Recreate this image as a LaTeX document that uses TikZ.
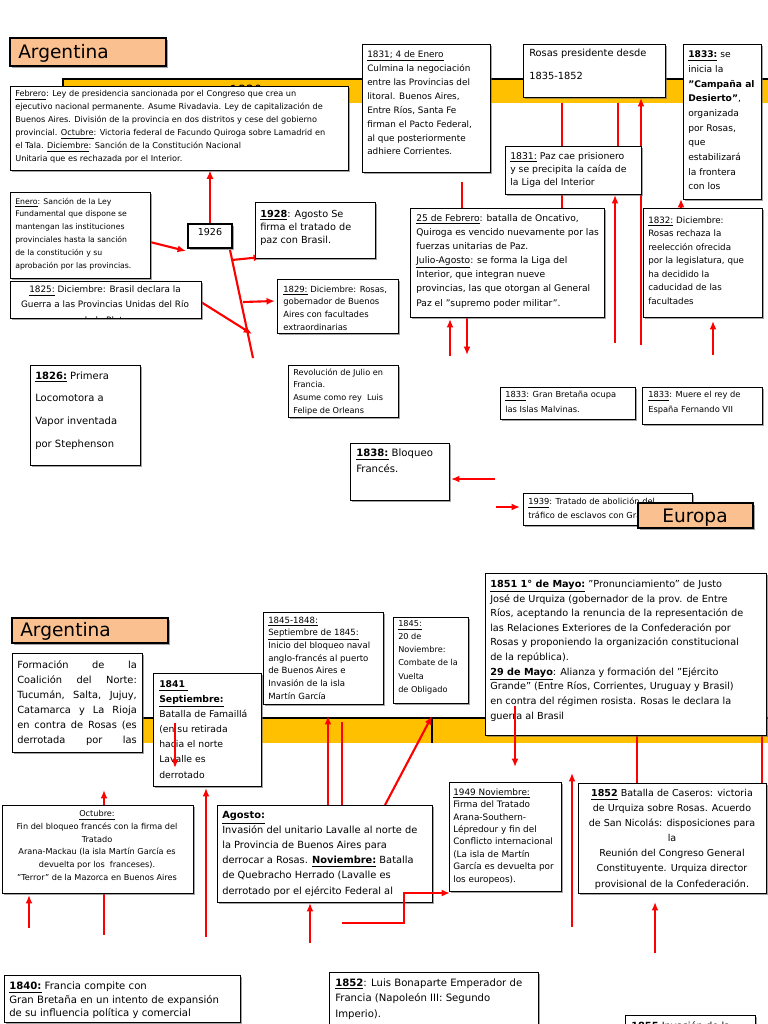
\documentclass[tikz,border=0pt]{standalone}
\usepackage{fontspec}
\setmainfont{DejaVu Sans}
\usepackage{xcolor}
\usetikzlibrary{shadows, fit, arrows.meta}

\definecolor{naranja}{RGB}{250,192,143}
\definecolor{barra}{RGB}{255,192,0}

\begin{document}
\begin{tikzpicture}[x=0.025cm, y=-0.025cm, >={Latex[length=6pt,width=5pt]},
    caja/.style={draw, fill=white, line width=0.6pt, inner sep=0pt,
      drop shadow={shadow xshift=1.5pt, shadow yshift=-1.5pt, fill=black!60, opacity=.6}},
    titulo/.style={caja, fill=naranja, line width=1.5pt},
    cabecera/.style={font=\fontsize{13.2}{15}\selectfont, inner sep=0pt, anchor=base west},
    texto/.style 2 args={font=\fontsize{#1}{#2}\selectfont, inner sep=0pt, anchor=base west, align=left},
    centro/.style 2 args={font=\fontsize{#1}{#2}\selectfont, inner sep=0pt, anchor=base, align=center},
    flecha/.style={->, red, line width=1.5pt},
    linea/.style={red, line width=1.5pt}]
    \useasboundingbox (0,0) rectangle (768,1024);
    \clip (0,0) rectangle (768,1024);

    % 1. Barras de tiempo amarillas
    \fill[barra] (63,79) rectangle (770,103);
    \draw[line width=1.5pt] (63,103) -- (63,79) -- (770,79);
    \node[font=\fontsize{9}{10}\selectfont, anchor=base, inner sep=0pt] (anio) at (246,95) {1830};
    \fill[barra] (100,718) rectangle (770,743);
    \draw[line width=1.5pt] (100,718) -- (770,718);
    \draw[line width=1.2pt] (432,718) -- (432,743);

    % 2. Puntos libres de las flechas rojas
    \coordinate (eneroS) at (150,242);  \coordinate (c1926O) at (186,251);
    \coordinate (rama0) at (230,250);   \coordinate (rama1) at (253,358);
    \coordinate (r28a) at (232,260);    \coordinate (r28b) at (262,257);
    \coordinate (r29a) at (243,302);    \coordinate (r29b) at (275,301);
    \coordinate (r25a) at (201,302);    \coordinate (r25b) at (252,334);
    \coordinate (p462a) at (462,182);   \coordinate (p462b) at (462,208);
    \coordinate (p562a) at (562,103);   \coordinate (p562b) at (562,208);
    \coordinate (p618a) at (618,103);   \coordinate (p618b) at (618,146);
    \coordinate (p641a) at (641,345);   \coordinate (p641b) at (641,98);
    \coordinate (p615a) at (615,343);   \coordinate (p615b) at (615,195);
    \coordinate (p681a) at (681,208);   \coordinate (p681b) at (681,199);
    \coordinate (p713a) at (713,355);   \coordinate (p713b) at (713,321);
    \coordinate (p450a) at (450,356);   \coordinate (p450b) at (450,319);
    \coordinate (p467a) at (467,318);   \coordinate (p467b) at (467,355);
    \coordinate (p1838a) at (495,479);  \coordinate (p1838b) at (451,479);
    \coordinate (p1939a) at (496,507);  \coordinate (p1939b) at (520,507);
    % mitad inferior
    \coordinate (p175a) at (175,723);   \coordinate (p175b) at (175,768);
    \coordinate (p104a) at (104,935);   \coordinate (p104b) at (104,790);
    \coordinate (p29a) at (29,928);     \coordinate (p29b) at (29,895);
    \coordinate (p206a) at (206,937);   \coordinate (p206b) at (206,788);
    \coordinate (p310a) at (310,943);   \coordinate (p310b) at (310,903);
    \coordinate (q1) at (342,923); \coordinate (q2) at (404,923);
    \coordinate (q3) at (404,893); \coordinate (q4) at (450,893);
    \coordinate (p328a) at (328,805);   \coordinate (p328b) at (328,716);
    \coordinate (p342a) at (342,805);   \coordinate (p342b) at (342,722);
    \coordinate (p385a) at (385,805);   \coordinate (p385b) at (432,716);
    \coordinate (p515a) at (515,706);   \coordinate (p515b) at (515,767);
    \coordinate (p637a) at (637,735);   \coordinate (p637b) at (637,783);
    \coordinate (p762a) at (762,735);   \coordinate (p762b) at (762,783);
    \coordinate (p572a) at (572,927);   \coordinate (p572b) at (572,773);
    \coordinate (p655a) at (655,953);   \coordinate (p655b) at (655,902);

    % 3. Flechas que pasan por debajo de los cuadros
    \draw[flecha] (eneroS) -- (c1926O);
    \draw[linea] (rama0) -- (rama1);
    \draw[flecha] (r28a) -- (r28b);
    \draw[flecha] (r29a) -- (r29b);
    \draw[flecha] (r25a) -- (r25b);
    \draw[linea] (p462a) -- (p462b);
    \draw[linea] (p562a) -- (p562b);
    \draw[linea] (p618a) -- (p618b);
    \draw[flecha] (p641a) -- (p641b);
    \draw[flecha] (p615a) -- (p615b);
    \draw[flecha] (p681a) -- (p681b);
    \draw[flecha] (p713a) -- (p713b);
    \draw[flecha] (p450a) -- (p450b);
    \draw[flecha] (p467a) -- (p467b);
    \draw[flecha] (p1838a) -- (p1838b);
    \draw[flecha] (p1939a) -- (p1939b);
    \draw[flecha] (p104a) -- (p104b);
    \draw[flecha] (p29a) -- (p29b);
    \draw[flecha] (p206a) -- (p206b);
    \draw[flecha] (p310a) -- (p310b);
    \draw[flecha] (p328a) -- (p328b);
    \draw[linea] (p342a) -- (p342b);
    \draw[flecha] (p385a) -- (p385b);
    \draw[linea] (p637a) -- (p637b);
    \draw[linea] (p762a) -- (p762b);
    \draw[flecha] (p572a) -- (p572b);
    \draw[flecha] (p655a) -- (p655b);

    % 4. Cuadros de la mitad superior (texto anclado en la ultima linea)
    \node[titulo, fit={(10,38) (166,66)}] (arg1) {};
    \node[cabecera] (arg1T) at (18,59) {Argentina};

    \node[caja, fit={(10,86) (348,170)}] (febrero) {};
    \node[texto={5.8}{9.25}] (febreroT) at (15,162) {\underline{Febrero}: Ley de presidencia sancionada por el Congreso que crea un\\
      ejecutivo nacional permanente. Asume Rivadavia. Ley de capitalización de\\
      Buenos Aires. División de la provincia en dos distritos y cese del gobierno\\
      provincial. \underline{Octubre}: Victoria federal de Facundo Quiroga sobre Lamadrid en\\
      el Tala. \underline{Diciembre}: Sanción de la Constitución Nacional\\
      Unitaria que es rechazada por el Interior.};

    \node[caja, line width=1.5pt, fit={(188,224) (232,248)}, font=\fontsize{6.8}{8}\selectfont] (c1926) {1926};
    \draw[flecha] (c1926.north) -- (c1926.north |- febrero.south);

    \node[caja, fit={(10,192) (150,278)}] (enero) {};
    \node[texto={5.5}{9.1}] (eneroT) at (15,268) {\underline{Enero}: Sanción de la Ley\\
      Fundamental que dispone se\\ mantengan las instituciones\\
      provinciales hasta la sanción\\ de la constitución y su\\
      aprobación por las provincias.};

    \node[caja, fit={(10,281) (201,318)}] (c1825) {};
    \begin{scope}
      \clip (c1825.north west) rectangle (c1825.south east);
      \node[centro={6.3}{10.7}] (c1825T) at (105,323) {\underline{1825:} Diciembre: Brasil declara la\\
        Guerra a las Provincias Unidas del Río\\ de la Plata};
    \end{scope}

    \node[caja, fit={(255,202) (375,258)}] (c1928) {};
    \node[texto={6.9}{9.6}] (c1928T) at (260,244) {\textbf{\underline{1928}}: Agosto Se\\ firma el tratado de\\ paz con Brasil.};

    \node[caja, fit={(277,279) (398,333)}] (c1829) {};
    \begin{scope}
      \clip (c1829.north west) rectangle (c1829.south east);
      \node[texto={6}{9}] (c1829T) at (283,330) {\underline{1829:} Diciembre: Rosas,\\ gobernador de Buenos\\
        Aires con facultades\\ extraordinarias};
    \end{scope}

    \node[caja, fit={(288,365) (398,417)}] (revolucion) {};
    \begin{scope}
      \clip (revolucion.north west) rectangle (revolucion.south east);
      \node[texto={5.8}{9}] (revolucionT) at (293,413) {Revolución de Julio en\\ Francia.\\
        Asume como rey\ \ Luis\\ Felipe de Orleans};
    \end{scope}

    \node[caja, fit={(30,365) (140,465)}] (c1826) {};
    \node[texto={7.1}{16.1}] (c1826T) at (35,447) {\textbf{\underline{1826:}} Primera\\ Locomotora a\\
      Vapor inventada\\ por Stephenson};

    \node[caja, fit={(362,44) (490,172)}] (enero1831) {};
    \node[texto={6.3}{9.9}] (enero1831T) at (367,155) {\underline{1831; 4 de Enero}\\ Culmina la negociación\\
      entre las Provincias del\\ litoral. Buenos Aires,\\ Entre Ríos, Santa Fe\\
      firman el Pacto Federal,\\ al que posteriormente\\ adhiere Corrientes.};

    \node[caja, fit={(523,44) (665,97)}] (rosas) {};
    \node[texto={7}{16.4}] (rosasT) at (529,80) {Rosas presidente desde\\ 1835-1852};

    \node[caja, fit={(683,44) (761,199)}] (campana) {};
    \node[texto={6.5}{10.45}] (campanaT) at (688,190) {\textbf{\underline{1833:}} se\\ inicia la\\
      \textbf{"Campaña al}\\ \textbf{Desierto"},\\ organizada\\ por Rosas,\\ que\\
      estabilizará\\ la frontera\\ con los};

    \node[caja, fit={(505,146) (641,194)}] (paz) {};
    \node[texto={6.6}{9.6}] (pazT) at (510,186) {\underline{1831:} Paz cae prisionero\\
      y se precipita la caída de\\ la Liga del Interior};

    \node[caja, fit={(643,208) (762,317)}] (c1832) {};
    \node[texto={6.2}{9.6}] (c1832T) at (648,304) {\underline{1832:} Diciembre:\\ Rosas rechaza la\\
      reelección ofrecida\\ por la legislatura, que\\ ha decidido la\\ caducidad de las\\ facultades};

    \node[caja, fit={(410,208) (604,317)}] (feb25) {};
    \node[texto={6.5}{10}] (feb25T) at (416,306) {\underline{25 de Febrero}: batalla de Oncativo,\\
      Quiroga es vencido nuevamente por las\\ fuerzas unitarias de Paz.\\
      \underline{Julio-Agosto}: se forma la Liga del\\ Interior, que integran nueve\\
      provincias, las que otorgan al General\\ Paz el "supremo poder militar".};

    \node[caja, fit={(500,387) (635,419)}] (gb1833) {};
    \node[texto={5.9}{10}] (gb1833T) at (505,412) {\underline{1833}: Gran Bretaña ocupa\\ las Islas Malvinas.};

    \node[caja, fit={(642,387) (762,424)}] (muere) {};
    \node[texto={5.9}{10}] (muereT) at (648,412) {\underline{1833}: Muere el rey de\\ España Fernando VII};

    \node[caja, fit={(350,443) (449,500)}] (c1838) {};
    \node[texto={7.2}{10.7}] (c1838T) at (356,472) {\textbf{\underline{1838:}} Bloqueo\\ Francés.};

    \node[caja, fit={(523,493) (692,525)}] (c1939) {};
    \node[texto={5.9}{9.25}] (c1939T) at (528,518) {\underline{1939}: Tratado de abolición del\\
      tráfico de esclavos con Gran Bretaña};

    \node[titulo, fit={(638,503) (753,528)}] (europa) {};
    \node[cabecera, anchor=base] (europaT) at (695,522) {Europa};

    % 5. Cuadros de la mitad inferior
    \node[titulo, fit={(12,618) (168,643)}] (arg2) {};
    \node[cabecera] (arg2T) at (20,636) {Argentina};

    \node[caja, fit={(12,653) (142,752)}] (formacion) {};
    \node[texto={7}{10.7}, text width=85pt] (formacionT) at (17,668) {Formación\hfill de\hfill la\\
      Coalición\hfill del\hfill Norte:\\ Tucumán,\hfill Salta,\hfill Jujuy,\\
      Catamarca\hfill y\hfill La\hfill Rioja\\ en\hfill contra\hfill de\hfill Rosas\hfill (es\\
      derrotada\hfill por\hfill las};

    \node[caja, fit={(153,673) (261,786)}] (s1841) {};
    \node[texto={6.6}{10.7}] (s1841T) at (159,778) {\textbf{\underline{1841\ }}\\ \textbf{\underline{Septiembre:}}\\
      Batalla de Famaillá\\ (en su retirada\\ hacia el norte\\ Lavalle es\\ derrotado};

    \node[caja, fit={(2,805) (193,893)}] (octubre) {};
    \node[centro={5.8}{9}] (octubreT) at (97,880) {\underline{Octubre:}\\
      Fin del bloqueo francés con la firma del\\ Tratado\\
      Arana-Mackau (la isla Martín García es\\ devuelta por los\ \ franceses).\\
      "Terror" de la Mazorca en Buenos Aires};

    \node[caja, fit={(263,612) (383,704)}] (b1845) {};
    \node[texto={6.1}{9}] (b1845T) at (268,699) {\underline{1845-1848:}\\ \underline{Septiembre de 1845:}\\
      Inicio del bloqueo naval\\ anglo-francés al puerto\\ de Buenos Aires e\\
      Invasión de la isla\\ Martín García};

    \node[caja, fit={(393,617) (468,703)}] (n1845) {};
    \node[texto={5.8}{9.25}] (n1845T) at (398,692) {\underline{1845:}\\ 20 de\\ Noviembre:\\
      Combate de la\\ Vuelta\\ de Obligado};

    \node[caja, fit={(217,805) (432,902)}] (agosto) {};
    \begin{scope}
      \clip (agosto.north west) rectangle (agosto.south east);
      \node[texto={7}{10.7}] (agostoT) at (222,894) {\textbf{\underline{Agosto:}}\\
        Invasión del unitario Lavalle al norte de\\ la Provincia de Buenos Aires para\\
        derrocar a Rosas. \textbf{\underline{Noviembre:}} Batalla\\ de Quebracho Herrado (Lavalle es\\
        derrotado por el ejército Federal al};
    \end{scope}

    \node[caja, fit={(485,573) (766,735)}] (s1851) {};
    \node[texto={6.9}{10.4}] (s1851T) at (490,719) {\textbf{\underline{1851 1° de Mayo:}} "Pronunciamiento" de Justo\\
      José de Urquiza (gobernador de la prov. de Entre\\
      Ríos, aceptando la renuncia de la representación de\\
      las Relaciones Exteriores de la Confederación por\\
      Rosas y proponiendo la organización constitucional\\ de la república).\\
      \textbf{\underline{29 de Mayo}}: Alianza y formación del "Ejército\\
      Grande" (Entre Ríos, Corrientes, Uruguay y Brasil)\\
      en contra del régimen rosista. Rosas le declara la\\ guerra al Brasil};

    \node[caja, fit={(449,782) (561,891)}] (n1949) {};
    \node[texto={6.3}{8.8}] (n1949T) at (453,882) {\underline{1949 Noviembre:}\\ Firma del Tratado\\
      Arana-Southern-\\ Lépredour y fin del\\ Conflicto internacional\\
      (La isla de Martín\\ García es devuelta por\\ los europeos).};

    \node[caja, fit={(578,783) (766,893)}] (caseros) {};
    \begin{scope}
      \clip (caseros.north west) rectangle (caseros.south east);
      \node[centro={6.8}{10.7}] (caserosT) at (672,887) {\textbf{\underline{1852}} Batalla de Caseros: victoria\\
        de Urquiza sobre Rosas. Acuerdo\\ de San Nicolás: disposiciones para\\ la\\
        Reunión del Congreso General\\ Constituyente. Urquiza director\\
        provisional de la Confederación.};
    \end{scope}

    \node[caja, fit={(4,975) (240,1022)}] (b1840) {};
    \begin{scope}
      \clip (b1840.north west) rectangle (b1840.south east);
      \node[texto={7.2}{9.25}] (b1840T) at (9,1016) {\textbf{\underline{1840:}} Francia compite con\\
        Gran Bretaña en un intento de expansión\\ de su influencia política y comercial};
    \end{scope}

    \node[caja, fit={(329,972) (538,1040)}] (luis) {};
    \node[texto={7.2}{11}] (luisT) at (335,1017) {\textbf{\underline{1852}}: Luis Bonaparte Emperador de\\
      Francia (Napoleón III: Segundo\\ Imperio).};

    \node[caja, fit={(625,1015) (755,1045)}] (b1855) {};
    \node[texto={7}{10}] (b1855T) at (631,1029) {\textbf{\underline{1855}} Invasión de la};

    % 6. Flechas dibujadas encima de los cuadros
    \draw[flecha] (p175a) -- (p175b);
    \draw[flecha] (p515a) -- (p515b);
    \draw[flecha] (q1) -- (q2) -- (q3) -- (q4);

\end{tikzpicture}
\end{document}
